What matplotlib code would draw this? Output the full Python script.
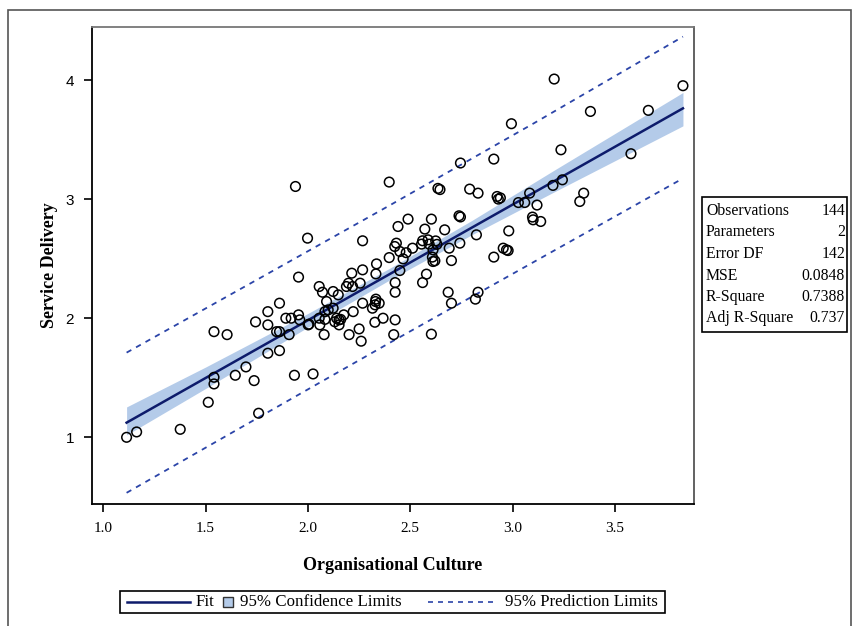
import numpy as np
import matplotlib
matplotlib.use('Agg')
import matplotlib.pyplot as plt
from matplotlib.patches import Rectangle
from matplotlib.lines import Line2D

# scatter points
org_culture = [
    1.114, 1.163, 1.376, 1.513, 1.541, 1.541, 1.541, 1.605, 1.645, 1.697,
    1.737, 1.759, 1.744, 1.804, 1.804, 1.804, 1.861, 1.861, 1.847, 1.861,
    1.892, 1.918, 1.954, 1.954, 1.960, 1.908, 1.934, 2.001, 2.025, 2.055,
    2.071, 2.055, 2.058, 2.079, 2.091, 2.083, 2.123, 2.123, 2.140, 2.152,
    2.152, 2.148, 2.188, 2.198, 2.214, 2.218, 2.175, 2.201, 2.221, 2.250,
    2.260, 2.267, 2.255, 2.267, 2.315, 2.328, 2.348, 2.327, 2.367, 2.332,
    2.332, 2.335, 2.419, 2.426, 2.426, 2.426, 2.099, 2.131, 2.083, 1.939,
    1.998, 2.267, 2.397, 2.440, 2.635, 2.645, 2.790, 2.831, 2.489, 2.603,
    2.571, 2.668, 2.738, 2.745, 2.432, 2.424, 2.449, 2.465, 2.397, 2.511,
    2.555, 2.587, 2.592, 2.624, 2.608, 2.620, 2.690, 2.742, 2.701, 2.449,
    2.579, 2.823, 3.203, 3.832, 3.380, 3.663, 2.994, 3.236, 3.578, 2.908,
    2.745, 2.924, 2.930, 3.028, 3.059, 3.083, 3.119, 3.197, 3.243, 3.328,
    3.347, 3.097, 3.100, 3.137, 2.981, 2.908, 2.954, 2.970, 2.978, 2.611,
    2.560, 2.685, 2.701, 2.831, 2.818, 2.603, 2.005, 2.480, 2.630, 2.160,
    2.330, 2.560, 2.940, 2.611,
]
service_delivery = [
    1.000, 1.045, 1.067, 1.294, 1.504, 1.448, 1.887, 1.862, 1.521, 1.591,
    1.476, 1.202, 1.969, 2.055, 1.944, 1.706, 2.126, 1.887, 1.887, 1.728,
    2.000, 2.000, 2.345, 2.028, 1.986, 1.862, 1.521, 1.944, 1.532, 2.266,
    2.218, 2.000, 1.944, 1.862, 2.140, 2.055, 2.224, 2.084, 2.000, 1.986,
    1.944, 2.196, 2.266, 2.294, 2.378, 2.266, 2.028, 1.862, 2.055, 1.910,
    1.807, 2.406, 2.294, 2.126, 2.084, 2.112, 2.126, 1.966, 2.000, 2.372,
    2.160, 2.456, 1.862, 1.986, 2.218, 2.299, 2.070, 1.970, 1.990, 3.106,
    2.672, 2.650, 3.143, 2.770, 3.090, 3.080, 3.084, 3.050, 2.832, 2.832,
    2.748, 2.742, 2.860, 2.850, 2.630, 2.602, 2.560, 2.498, 2.509, 2.588,
    2.622, 2.658, 2.622, 2.649, 2.513, 2.482, 2.588, 2.630, 2.484, 2.400,
    2.370, 2.700, 4.008, 3.952, 3.736, 3.745, 3.633, 3.414, 3.381, 3.336,
    3.303, 3.022, 3.000, 2.971, 2.971, 3.050, 2.950, 3.115, 3.162, 2.980,
    3.050, 2.849, 2.826, 2.812, 2.733, 2.513, 2.588, 2.574, 2.568, 2.574,
    2.299, 2.218, 2.126, 2.218, 2.160, 1.866, 1.950, 2.550, 2.620, 1.990,
    2.140, 2.650, 3.010, 2.476,
]

# fit line and bands
band_x = [1.114, 1.50, 2.00, 2.40, 2.80, 3.20, 3.832]
fit_y = [1.123, 1.498, 1.983, 2.371, 2.760, 3.148, 3.762]
cl_upper = [1.255, 1.590, 2.040, 2.420, 2.820, 3.240, 3.895]
cl_lower = [1.020, 1.410, 1.925, 2.322, 2.700, 3.058, 3.615]
pl_x = [1.114, 1.75, 2.40, 3.10, 3.832]
pl_upper = [1.711, 2.322, 2.948, 3.633, 4.364]
pl_lower = [0.534, 1.158, 1.794, 2.469, 3.174]

stat_names = ['Observations', 'Parameters', 'Error DF', 'MSE', 'R-Square', 'Adj R-Square']
stat_values = ['144', '2', '142', '0.0848', '0.7388', '0.737']

W, H = 856, 626
serif = 'Liberation Serif'
sans = 'Liberation Sans'
fit_color = '#0d1b6b'
band_color = '#b4cbe9'
pl_color = '#2b44a8'


def fx(px):
    return px / W


def fy(py):
    return 1 - py / H


fig = plt.figure(figsize=(W / 100, H / 100), dpi=100)
fig.patches.append(Rectangle((fx(8), fy(640)), fx(851) - fx(8), fy(10) - fy(640),
                             transform=fig.transFigure, fill=False,
                             edgecolor='#555555', lw=1.2))

ax = fig.add_axes([fx(92), fy(504), fx(694) - fx(92), fy(27) - fy(504)])
ax.fill_between(band_x, cl_lower, cl_upper, color=band_color, lw=0, zorder=1)
ax.plot(band_x, fit_y, color=fit_color, lw=1.8, zorder=3)
ax.plot(pl_x, pl_upper, color=pl_color, lw=1.3, ls=(0, (3, 3)), zorder=2)
ax.plot(pl_x, pl_lower, color=pl_color, lw=1.3, ls=(0, (3, 3)), zorder=2)
ax.scatter(org_culture, service_delivery, s=48, facecolors='none',
           edgecolors='black', linewidths=1.1, zorder=4)

ax.set_xlim(0.945, 3.886)
ax.set_ylim(0.44, 4.445)
ax.set_xticks([1.0, 1.5, 2.0, 2.5, 3.0, 3.5])
ax.set_xticklabels(['1.0', '1.5', '2.0', '2.5', '3.0', '3.5'], family=serif, fontsize=11)
ax.set_yticks([1, 2, 3, 4])
ax.set_yticklabels(['1', '2', '3', '4'], family=sans, fontsize=11)
ax.tick_params(direction='out', length=6, width=1.2, colors='black', pad=7)
for sp in ax.spines.values():
    sp.set_linewidth(1.3)
ax.spines['top'].set_color('#777777')
ax.spines['right'].set_color('#555555')

ax.set_xlabel('Organisational Culture', family=serif, fontsize=13, fontweight='bold',
              labelpad=16)
ax.set_ylabel('Service Delivery', family=serif, fontsize=13, fontweight='bold',
              labelpad=5)

# stats box
fig.patches.append(Rectangle((fx(702), fy(332)), fx(847) - fx(702), fy(197) - fy(332),
                             transform=fig.transFigure, fill=False,
                             edgecolor='black', lw=1.2))
for i, (name, val) in enumerate(zip(stat_names, stat_values)):
    yy = fy(211 + i * 21.5)
    fig.text(fx(706), yy, name, family=serif, fontsize=11.3, va='center', ha='left')
    fig.text(fx(845), yy, val, family=serif, fontsize=11.3, va='center', ha='right')

# legend
fig.patches.append(Rectangle((fx(120), fy(613)), fx(665) - fx(120), fy(591) - fy(613),
                             transform=fig.transFigure, fill=False,
                             edgecolor='black', lw=1.2))
ly = fy(602)
fig.lines.append(Line2D([fx(127), fx(190)], [ly, ly], transform=fig.transFigure,
                        color=fit_color, lw=1.8))
fig.text(fx(196), ly, 'Fit', family=serif, fontsize=12.2, va='center', ha='left')
fig.patches.append(Rectangle((fx(223), fy(607)), fx(233) - fx(223), fy(597) - fy(607),
                             transform=fig.transFigure, facecolor=band_color,
                             edgecolor='#333333', lw=1.0))
fig.text(fx(240), ly, '95% Confidence Limits', family=serif, fontsize=12.2,
         va='center', ha='left')
fig.lines.append(Line2D([fx(428), fx(498)], [ly, ly], transform=fig.transFigure,
                        color=pl_color, lw=1.2, ls=(0, (3, 3))))
fig.text(fx(505), ly, '95% Prediction Limits', family=serif, fontsize=12.2,
         va='center', ha='left')

fig.savefig('out.png', dpi=100)
